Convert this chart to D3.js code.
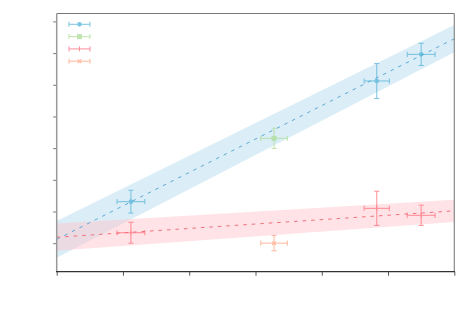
<!DOCTYPE html>
<html>
<head>
<meta charset="utf-8">
<script src="https://cdn.jsdelivr.net/npm/d3@7"></script>
<style>
  body { margin: 0; background: #fff; }
  svg { display: block; }
</style>
</head>
<body>
<svg width="472" height="314"></svg>
<script>
// meetpunten per reeks (x, y, fouten)
const blueX = [1.12, 4.83, 5.50];
const blueY = [1.31, 5.12, 5.96];
const blueXErr = [0.21, 0.19, 0.21];
const blueYErr = [0.36, 0.55, 0.35];

const greenX = [3.28];
const greenY = [3.31];
const greenXErr = [0.20];
const greenYErr = [0.32];

const redX = [1.12, 4.83, 5.50];
const redY = [0.33, 1.10, 0.88];
const redXErr = [0.21, 0.19, 0.21];
const redYErr = [0.33, 0.54, 0.32];

const orangeX = [3.28];
const orangeY = [0.00];
const orangeXErr = [0.20];
const orangeYErr = [0.24];

// halve breedte van de band bij x = 0 en x = 6
const blueBand = [0.58, 0.43];
const redBand = [0.43, 0.35];

const xTicks = [0, 1, 2, 3, 4, 5, 6];
const yTicks = [0, 1, 2, 3, 4, 5, 6, 7];
const legendLabels = ["", "", "", ""];

const svg = d3.select("svg");
const margin = { top: 13.5, right: 17.7, bottom: 42.3, left: 56.7 };
const width = +svg.attr("width");
const height = +svg.attr("height");

const x = d3.scaleLinear().domain([0, 6]).range([margin.left, width - margin.right]);
const y = d3.scaleLinear().domain([-0.9, 7.25]).range([height - margin.bottom, margin.top]);

const series = [
  { xs: blueX, ys: blueY, xe: blueXErr, ye: blueYErr, color: "#4fb0d6", marker: "circle" },
  { xs: greenX, ys: greenY, xe: greenXErr, ye: greenYErr, color: "#a9dc92", marker: "square" },
  { xs: redX, ys: redY, xe: redXErr, ye: redYErr, color: "#ff6b78", marker: "vline" },
  { xs: orangeX, ys: orangeY, xe: orangeXErr, ye: orangeYErr, color: "#ffa07c", marker: "x" }
];

// gewogen lineaire fit (1/yerr^2)
function fit(xs, ys, ye) {
  const w = ye.map(e => 1 / (e * e));
  const sw = d3.sum(w);
  const mx = d3.sum(xs.map((v, i) => v * w[i])) / sw;
  const my = d3.sum(ys.map((v, i) => v * w[i])) / sw;
  let sxy = 0, sxx = 0;
  xs.forEach((v, i) => {
    sxy += w[i] * (v - mx) * (ys[i] - my);
    sxx += w[i] * (v - mx) * (v - mx);
  });
  const b = sxy / sxx;
  return { a: my - b * mx, b: b };
}

const fits = [
  { f: fit(blueX, blueY, blueYErr), band: blueBand, fill: "#b4dbee", line: "#5aa9d3" },
  { f: fit(redX, redY, redYErr), band: redBand, fill: "#ffc4cb", line: "#f0707c" }
];

const [x0, x1] = x.domain();
fits.forEach(d => {
  const yAt = t => d.f.a + d.f.b * t;
  const pts = [
    [x0, yAt(x0) + d.band[0]], [x1, yAt(x1) + d.band[1]],
    [x1, yAt(x1) - d.band[1]], [x0, yAt(x0) - d.band[0]]
  ];
  svg.append("path")
    .attr("d", d3.line().x(p => x(p[0])).y(p => y(p[1]))(pts) + "Z")
    .attr("fill", d.fill)
    .attr("opacity", 0.48);
});

fits.forEach(d => {
  svg.append("line")
    .attr("x1", x(x0)).attr("y1", y(d.f.a + d.f.b * x0))
    .attr("x2", x(x1)).attr("y2", y(d.f.a + d.f.b * x1))
    .attr("stroke", d.line)
    .attr("stroke-width", 1)
    .attr("stroke-dasharray", "3.5,5");
});

function drawMarker(g, type, cx, cy, color) {
  if (type === "circle") {
    g.append("circle").attr("cx", cx).attr("cy", cy).attr("r", 1.8).attr("fill", color);
  } else if (type === "square") {
    g.append("rect").attr("x", cx - 2).attr("y", cy - 2).attr("width", 4).attr("height", 4).attr("fill", color);
  } else if (type === "vline") {
    g.append("line").attr("x1", cx).attr("x2", cx).attr("y1", cy - 2.5).attr("y2", cy + 2.5)
      .attr("stroke", color).attr("stroke-width", 1.1);
  } else if (type === "x") {
    g.append("path").attr("d", `M${cx - 1.8},${cy - 1.8}L${cx + 1.8},${cy + 1.8}M${cx - 1.8},${cy + 1.8}L${cx + 1.8},${cy - 1.8}`)
      .attr("stroke", color).attr("stroke-width", 1.1);
  }
}

// foutbalken
const cap = 2.6;
series.forEach(s => {
  s.xs.forEach((v, i) => {
    const g = svg.append("g").attr("opacity", 0.72)
      .attr("stroke", s.color).attr("stroke-width", 1.05).attr("fill", "none");
    const cx = x(v), cy = y(s.ys[i]);
    const xl = x(v - s.xe[i]), xr = x(v + s.xe[i]);
    const yt = y(s.ys[i] + s.ye[i]), yb = y(s.ys[i] - s.ye[i]);
    g.append("line").attr("x1", xl).attr("x2", xr).attr("y1", cy).attr("y2", cy);
    g.append("line").attr("x1", cx).attr("x2", cx).attr("y1", yt).attr("y2", yb);
    [xl, xr].forEach(xx => g.append("line").attr("x1", xx).attr("x2", xx).attr("y1", cy - cap).attr("y2", cy + cap));
    [yt, yb].forEach(yy => g.append("line").attr("x1", cx - cap).attr("x2", cx + cap).attr("y1", yy).attr("y2", yy));
    drawMarker(g, s.marker, cx, cy, s.color);
  });
});

// assen
const xAxis = d3.axisBottom(x).tickValues(xTicks).tickSize(4).tickFormat("");
const yAxis = d3.axisLeft(y).tickValues(yTicks).tickSize(3.5).tickFormat("");

const gx = svg.append("g").attr("transform", `translate(0,${y.range()[0]})`).call(xAxis);
gx.select(".domain").remove();
gx.selectAll(".tick line").attr("stroke", "#555");

const gy = svg.append("g").attr("transform", `translate(${x.range()[0]},0)`).call(yAxis);
gy.select(".domain").remove();
gy.selectAll(".tick line").attr("stroke", "#777");

// randen
const [L, R] = x.range();
const [B, T] = y.range();
svg.append("line").attr("x1", L).attr("x2", R).attr("y1", T).attr("y2", T).attr("stroke", "#777").attr("stroke-width", 1.2);
svg.append("line").attr("x1", R).attr("x2", R).attr("y1", T).attr("y2", B).attr("stroke", "#888").attr("stroke-width", 1.2);
svg.append("line").attr("x1", L).attr("x2", L).attr("y1", T).attr("y2", B).attr("stroke", "#999").attr("stroke-width", 1.5);
svg.append("line").attr("x1", L - 0.7).attr("x2", R + 0.6).attr("y1", B).attr("y2", B).attr("stroke", "#333").attr("stroke-width", 1.3);

// legenda
const legend = svg.append("g");
series.forEach((s, i) => {
  const ly = 24.3 + i * 12.3;
  const g = legend.append("g").attr("opacity", 0.72)
    .attr("stroke", s.color).attr("stroke-width", 1.05).attr("fill", "none");
  g.append("line").attr("x1", 69).attr("x2", 90).attr("y1", ly).attr("y2", ly);
  [69, 90].forEach(xx => g.append("line").attr("x1", xx).attr("x2", xx).attr("y1", ly - 2.5).attr("y2", ly + 2.5));
  drawMarker(g, s.marker, 79.5, ly, s.color);
  legend.append("text").attr("x", 96).attr("y", ly + 3.5)
    .attr("font-family", "DejaVu Sans").attr("font-size", 10).text(legendLabels[i]);
});
</script>
</body>
</html>
